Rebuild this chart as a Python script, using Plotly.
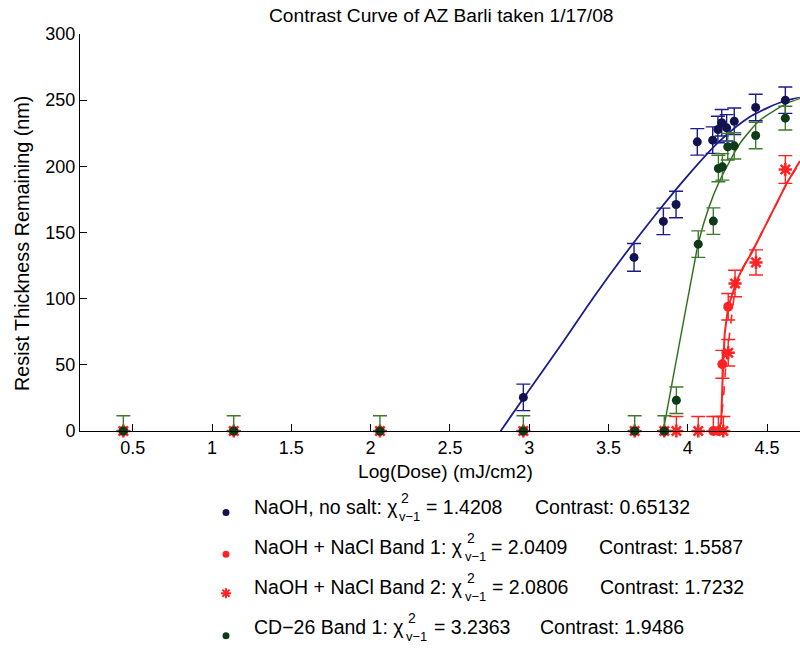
import plotly.graph_objects as go

# ---------------------------------------------------------------- data ----
# NaOH developer, no salt
naoh_x = [2.963, 3.661, 3.846, 3.926, 4.060, 4.157, 4.190, 4.214, 4.245, 4.293, 4.428, 4.615]
naoh_y = [25.4, 131.2, 158.4, 171.2, 218.5, 219.8, 227.8, 232.9, 229.1, 234.1, 244.5, 250.0]
naoh_err = [10, 10.5, 10, 10, 10, 10, 10, 10, 10, 10, 10, 10]

# NaOH + NaCl, band 1 (dots); the low-dose bars sit under the CD-26 ones
b1_x = [0.441, 1.137, 2.059, 2.963, 3.665, 3.852, 4.161, 4.193, 4.218, 4.255]
b1_y = [0, 0, 0, 0, 0, 0, 0, 0, 50.4, 93.9]
b1_err = [0, 0, 0, 0, 0, 0, 11, 11, 10.5, 10]

# NaOH + NaCl, band 2 (asterisks)
b2_x = [0.441, 1.137, 2.059, 2.963, 3.665, 3.852, 3.928, 4.066, 4.224, 4.255, 4.298, 4.430, 4.615]
b2_y = [0, 0, 0, 0, 0, 0, 0, 0, 0, 59.1, 111.5, 127.4, 197.6]
b2_err = [0, 0, 0, 0, 0, 0, 11, 11, 11, 10, 10, 9.5, 10.5]

# CD-26, band 1
cd_x = [0.441, 1.137, 2.059, 2.963, 3.665, 3.852, 3.928, 4.066, 4.161, 4.193, 4.218, 4.252, 4.293, 4.428, 4.615]
cd_y = [0, 0, 0, 0, 0, 0, 23.2, 141.2, 158.6, 198.4, 199.6, 214.8, 215.5, 223.3, 236.4]
cd_err = [11.5, 11.5, 11.5, 11.5, 11.5, 11.5, 10, 10, 10, 10, 10, 10, 10, 10, 9]

# fitted contrast curves
naoh_fit_x = [2.82, 3.0, 3.2, 3.4, 3.6, 3.8, 4.0, 4.2, 4.4, 4.6, 4.707]
naoh_fit_y = [0, 31, 65, 100, 133, 164, 193, 219, 238, 249, 252]
cd_fit_x = [3.845, 3.95, 4.045, 4.066, 4.13, 4.203, 4.329, 4.455, 4.623, 4.707]
cd_fit_y = [0, 68, 129, 141.8, 168, 189.6, 217.3, 234.9, 247.5, 251.3]
b1_fit_x = [4.19, 4.21, 4.223, 4.233, 4.255, 4.287, 4.31, 4.35, 4.40, 4.455, 4.54, 4.623, 4.707]
b1_fit_y = [0, 6, 51, 74, 94, 106, 114, 124, 134, 147, 167, 187, 204]
b2_fit_x = [4.20, 4.224, 4.24, 4.265, 4.29, 4.32, 4.36, 4.40, 4.455, 4.54, 4.623, 4.707]
b2_fit_y = [0, 23, 50, 77, 100, 115, 126, 135, 147, 167, 187, 203]

# legend entries: label, reduced chi-square, contrast
legend_labels = ["NaOH, no salt:", "NaOH + NaCl Band 1:", "NaOH + NaCl Band 2:", "CD\u221226 Band 1:"]
legend_chi2 = ["1.4208", "2.0409", "2.0806", "3.2363"]
legend_contrast = ["0.65132", "1.5587", "1.7232", "1.9486"]

x_ticks = [0.5, 1, 1.5, 2, 2.5, 3, 3.5, 4, 4.5]
y_ticks = [0, 50, 100, 150, 200, 250, 300]

# ---------------------------------------------------------------- style ---
FONT = "Liberation Sans, Arial, Helvetica, sans-serif"
NAVY = "#1b1b8e"
NAVY_DOT = "#12124f"
GREEN_DOT = "#0d3a17"
GREEN_BAR = "#3f7a2c"
RED = "#ff2222"

W, H = 800, 649
M_L, M_R, M_T, M_B = 80, 0, 34, 218
PW, PH = W - M_L - M_R, H - M_T - M_B


def px(x):
    """page pixel column -> paper x"""
    return (x - M_L) / PW


def py(y):
    """page pixel row -> paper y"""
    return (H - M_B - y) / PH


def err_bars(err, y, color):
    return dict(type="data", symmetric=False, array=err,
                arrayminus=[min(e, v) for e, v in zip(err, y)],
                color=color, thickness=1.4, width=7)


fig = go.Figure()

# fit curves
fig.add_trace(go.Scatter(x=naoh_fit_x, y=naoh_fit_y, mode="lines",
                         line=dict(color=NAVY, width=1.8, shape="spline", smoothing=0.8),
                         name="NaOH fit"))
fig.add_trace(go.Scatter(x=cd_fit_x, y=cd_fit_y, mode="lines",
                         line=dict(color="#dfe88a", width=2.2, shape="spline", smoothing=0.6),
                         name="CD-26 fit halo", hoverinfo="skip"))
fig.add_trace(go.Scatter(x=cd_fit_x, y=cd_fit_y, mode="lines",
                         line=dict(color="#1c5f4c", width=1.2, shape="spline", smoothing=0.6),
                         name="CD-26 fit"))
fig.add_trace(go.Scatter(x=b2_fit_x, y=b2_fit_y, mode="lines",
                         line=dict(color=RED, width=1.6, dash="dash"),
                         name="Band 2 fit"))
fig.add_trace(go.Scatter(x=b1_fit_x, y=b1_fit_y, mode="lines",
                         line=dict(color=RED, width=2),
                         name="Band 1 fit"))

# measured points with error bars
fig.add_trace(go.Scatter(x=naoh_x, y=naoh_y, mode="markers", cliponaxis=False,
                         marker=dict(color=NAVY_DOT, size=9),
                         error_y=err_bars(naoh_err, naoh_y, NAVY),
                         name="NaOH, no salt"))
fig.add_trace(go.Scatter(x=b2_x, y=b2_y, mode="markers", cliponaxis=False,
                         marker=dict(symbol="asterisk-open", size=11, color=RED,
                                     line=dict(color=RED, width=2.5)),
                         error_y=err_bars(b2_err, b2_y, RED),
                         name="NaOH + NaCl Band 2"))
fig.add_trace(go.Scatter(x=b1_x, y=b1_y, mode="markers", cliponaxis=False,
                         marker=dict(color=RED, size=10),
                         error_y=err_bars(b1_err, b1_y, RED),
                         name="NaOH + NaCl Band 1"))
fig.add_trace(go.Scatter(x=cd_x, y=cd_y, mode="markers", cliponaxis=False,
                         marker=dict(color=GREEN_DOT, size=9),
                         error_y=err_bars(cd_err, cd_y, GREEN_BAR),
                         name="CD-26 Band 1"))

# ------------------------------------------------------- legend block -----
legend_rows = [506.5, 546.7, 586.7, 626.7]          # text centre lines (px)
glyphs = [("dot", NAVY_DOT, 6), ("dot", RED, 7.5), ("star", RED, 6.5), ("dot", GREEN_DOT, 9)]
shapes = []
for row, (kind, color, dy) in zip(legend_rows, glyphs):
    common = dict(xref="paper", yref="paper", xsizemode="pixel", ysizemode="pixel",
                  xanchor=px(226), yanchor=py(row + dy), layer="above")
    if kind == "dot":
        shapes.append(dict(type="circle", x0=-3.5, x1=3.5, y0=-3.5, y1=3.5,
                           fillcolor=color, line=dict(width=0), **common))
    else:
        shapes.append(dict(type="path",
                           path="M-5,0L5,0M0,-5L0,5M-3.6,-3.6L3.6,3.6M-3.6,3.6L3.6,-3.6",
                           line=dict(color=color, width=2), **common))

chi_x = [385, 450.7, 450.7, 391.7]        # left edge of the chi glyph per row
eq_x = [424, 489.3, 490, 431.7]
con_x = [532.7, 596.7, 597.7, 538.3]

ann = []
TXT = 19.5


def text(x, y, s, size=TXT, xanchor="left", **kw):
    ann.append(dict(x=px(x), y=py(y), xref="paper", yref="paper", text=s, showarrow=False,
                    xanchor=xanchor, yanchor="middle",
                    font=dict(family=FONT, size=size, color="black"), **kw))


for i, row in enumerate(legend_rows):
    text(251.7, row, legend_labels[i] + " \u03c7")
    text(chi_x[i] + 14, row - 9, "2", size=14)
    text(chi_x[i] + 12, row + 10, "v\u22121", size=13)
    text(eq_x[i], row, "= " + legend_chi2[i])
    text(con_x[i], row, "Contrast: " + legend_contrast[i])

# title and axis labels
text(441, 15, "Contrast Curve of AZ Barli taken 1/17/08", size=19.2, xanchor="center")
text(445.8, 471.7, "Log(Dose) (mJ/cm2)", size=19.2, xanchor="center")
text(22, 244, "Resist Thickness Remaining (nm)", size=19.8, xanchor="center", textangle=-90)

axis_common = dict(ticks="inside", ticklen=7, tickwidth=1, tickcolor="black",
                   showline=True, linecolor="black", linewidth=1,
                   showgrid=False, zeroline=False, mirror=False,
                   tickfont=dict(family=FONT, size=18, color="black"))

fig.update_layout(
    width=W, height=H,
    margin=dict(l=M_L, r=M_R, t=M_T, b=M_B, pad=0),
    paper_bgcolor="white", plot_bgcolor="white",
    showlegend=False,
    font=dict(family=FONT, color="black"),
    xaxis=dict(range=[0.1677, 4.7075], tickvals=x_ticks, automargin=False, **axis_common),
    yaxis=dict(range=[0, 300], tickvals=y_ticks, automargin=False, **axis_common),
    annotations=ann,
    shapes=shapes,
)

fig.write_html("out.html")
